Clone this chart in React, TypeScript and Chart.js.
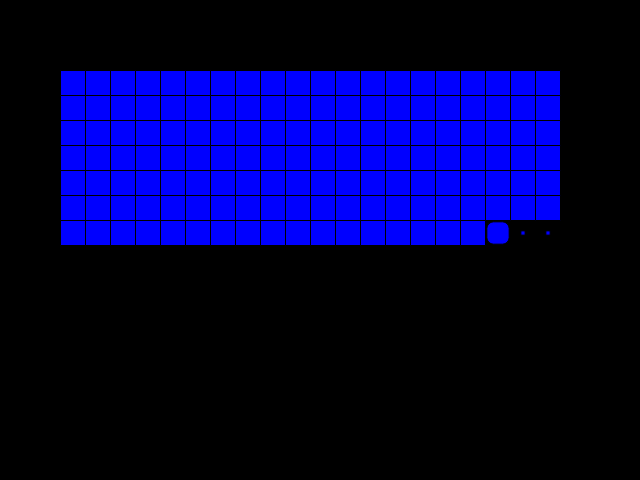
import { useEffect, useRef } from "react";
import { Chart, registerables } from "chart.js";

Chart.register(...registerables);

// waffle grid: 7 rows of 20 cells
const rowLabels = ["1", "2", "3", "4", "5", "6", "7"];
const colLabels = [
    "1", "2", "3", "4", "5", "6", "7", "8", "9", "10",
    "11", "12", "13", "14", "15", "16", "17", "18", "19", "20",
];
// cells per row that are fully filled, and partly filled
const filledCells = [20, 20, 20, 20, 20, 20, 17];
const partialCells = [0, 0, 0, 0, 0, 0, 1];

type Cell = { x: number; y: number };

const buildCells = () => {
    const full: Cell[] = [];
    const partial: Cell[] = [];
    const empty: Cell[] = [];
    rowLabels.forEach((_, r) => {
        colLabels.forEach((_, c) => {
            const cell = { x: c, y: r };
            if (c < filledCells[r]) full.push(cell);
            else if (c < filledCells[r] + partialCells[r]) partial.push(cell);
            else empty.push(cell);
        });
    });
    return { full, partial, empty };
};

const WaffleChart = () => {
    const chartRef = useRef<HTMLCanvasElement>(null);
    const chartInstanceRef = useRef<Chart | null>(null);

    useEffect(() => {
        if (!chartRef.current) return;
        chartInstanceRef.current?.destroy();

        const { full, partial, empty } = buildCells();
        const common = {
            backgroundColor: "#0000ff",
            borderColor: "#000000",
            borderWidth: 1,
            clip: false as const,
        };

        chartInstanceRef.current = new Chart(chartRef.current, {
            type: "scatter",
            data: {
                datasets: [
                    {
                        label: "Filled",
                        data: full,
                        pointStyle: "rect",
                        pointRadius: 25 / Math.SQRT2,
                        ...common,
                    },
                    {
                        label: "Partial",
                        data: partial,
                        pointStyle: "rectRounded",
                        pointRadius: 13,
                        ...common,
                    },
                    {
                        label: "Empty",
                        data: empty,
                        pointStyle: "rect",
                        pointRadius: 3,
                        ...common,
                    },
                ],
            },
            options: {
                animation: false,
                responsive: true,
                maintainAspectRatio: false,
                events: [],
                // half-pixel offsets keep the cell borders crisp
                layout: { padding: { left: 60.5, right: 79.5, top: 70.5, bottom: 234.5 } },
                plugins: {
                    legend: { display: false },
                    tooltip: { enabled: false },
                },
                scales: {
                    x: {
                        type: "linear",
                        display: false,
                        min: -0.5,
                        max: colLabels.length - 0.5,
                    },
                    y: {
                        type: "linear",
                        display: false,
                        reverse: true,
                        min: -0.5,
                        max: rowLabels.length - 0.5,
                    },
                },
            },
        });

        return () => {
            chartInstanceRef.current?.destroy();
            chartInstanceRef.current = null;
        };
    }, []);

    return (
        <div
            style={{
                position: "fixed",
                left: 0,
                top: 0,
                width: "640px",
                height: "480px",
                background: "#000000",
            }}
        >
            <canvas ref={chartRef} />
        </div>
    );
};

export default function App() {
    return <WaffleChart />;
}
